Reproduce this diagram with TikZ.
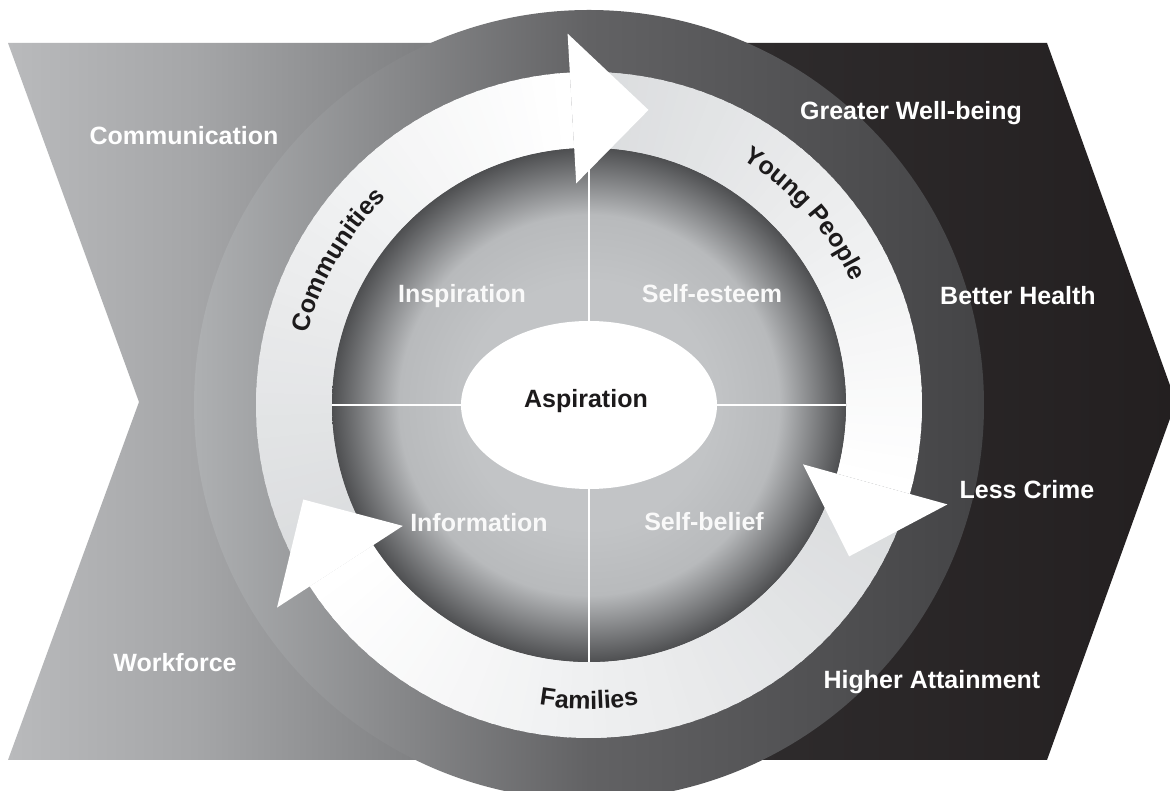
\documentclass[tikz,border=0pt]{standalone}
\usepackage{fontspec}
\setmainfont{Liberation Sans}
\usetikzlibrary{decorations.text,shapes.geometric}

% palette
\definecolor{chevA}{HTML}{B9BABC}
\definecolor{chevB}{HTML}{A5A6A8}
\definecolor{chevC}{HTML}{7E7F81}
\definecolor{chevD}{HTML}{555557}
\definecolor{chevE}{HTML}{2E2B2C}
\definecolor{chevF}{HTML}{231F20}
\definecolor{ringL}{HTML}{AEB0B2}
\definecolor{ringM}{HTML}{626264}
\definecolor{ringR}{HTML}{444446}
\definecolor{discC}{HTML}{C2C4C6}
\definecolor{discM}{HTML}{B8BABC}
\definecolor{discE}{HTML}{4E4F51}
\definecolor{bandtail}{HTML}{D9DBDD}
\definecolor{textdark}{HTML}{1C1A1B}

% background chevron: light grey on the left, near black on the right
\pgfdeclarehorizontalshading{chevronshade}{100bp}{color(0bp)=(chevA); color(25bp)=(chevA);
  color(33bp)=(chevB); color(43bp)=(chevC); color(50bp)=(chevD); color(57bp)=(chevE);
  color(75bp)=(chevF); color(100bp)=(chevF)}
% inner disc: flat light centre, darkening towards the rim
\pgfdeclareradialshading{discshade}{\pgfpoint{0bp}{0bp}}{color(0bp)=(discC); color(12bp)=(discC);
  color(18.5bp)=(discM); color(25bp)=(discE); color(50bp)=(discE)}

\newcommand\curvefont{\fontsize{25}{30}\selectfont\bfseries}

% one arrow body: annular sector from tail angle #1 to head angle #2, grey to white
\newcommand\shadeband[2]{%
  \foreach \k in {0,...,59}{%
    \pgfmathsetmacro\angA{#1+(#2-#1)*max(\k-0.4,0)/60}%
    \pgfmathsetmacro\angB{#1+(#2-#1)*(\k+1)/60}%
    \pgfmathtruncatemacro\mixpc{round(100*\k/59)}%
    \fill[white!\mixpc!bandtail] (\angA:257) arc[start angle=\angA, end angle=\angB, radius=257]
      -- (\angB:333) arc[start angle=\angB, end angle=\angA, radius=333] -- cycle;
  }}
% arrow head with its base at angle #1, pointing clockwise
\newcommand\headat[1]{\fill[white] (#1:222) -- ({#1-14.7}:301) -- (#1:372) -- cycle;}

\tikzset{
  outlabel/.style={text=white, font=\fontsize{25}{30}\selectfont\bfseries, anchor=base, inner sep=0pt},
  quadlabel/.style={outlabel, text=white!95!gray},
  corelabel/.style={outlabel, text=textdark},
  divider/.style={draw=white, line width=1.3pt},
  curved/.style={decorate, decoration={text along path, text align=center, text color=textdark, text={|\curvefont|#1}}}
}

\begin{document}
\begin{tikzpicture}[x=1pt,y=1pt]
\useasboundingbox (0,0) rectangle (1170,791);
\fill[white] (0,0) rectangle (1170,791);
\begin{scope}
\clip (0,0) rectangle (1170,791);

% chevron band
\shade[shading=chevronshade] (8,748) -- (1047,748) -- (1176,389) -- (1047,31) -- (8,31) -- (139,389) -- cycle;

\coordinate (c) at (589,386);

% outer ring
\shade[left color=ringL, right color=ringR, middle color=ringM] (c) circle[radius=395];

% the three arrow bodies
\begin{scope}[shift={(c)}]
  \shadeband{213}{93.3}
  \shadeband{93.3}{-15.5}
  \shadeband{-15.5}{-147}
\end{scope}

% inner disc
\shade[shading=discshade] (c) circle[radius=257];

% centre ellipse and quadrant dividers
\node[ellipse, fill=white, minimum width=256, minimum height=168, inner sep=0pt] (asp) at (c) {};
\draw[divider] (asp.north) -- ++(0,173);
\draw[divider] (asp.south) -- ++(0,-173);
\draw[divider] (asp.west) -- ++(-129,0);
\draw[divider] (asp.east) -- ++(129,0);

% arrow heads and curved labels
\begin{scope}[shift={(c)}]
  \headat{93.3}
  \headat{-15.5}
  \headat{213}
  \path[curved=Communities] (172:290) arc[start angle=172, end angle=128, radius=290];
  \path[curved=Young People] (63.5:290) arc[start angle=63.5, end angle=19.5, radius=290];
  \path[curved=Families] (250:304) arc[start angle=250, end angle=290, radius=304];
\end{scope}

% labels
\node[corelabel] (n-asp) at (586,383) {Aspiration};
\node[quadlabel] (n-insp) at (462,488) {Inspiration};
\node[quadlabel] (n-sest) at (712,488) {Self-esteem};
\node[quadlabel] (n-info) at (479,259) {Information};
\node[quadlabel] (n-sbel) at (704,260) {Self-belief};

\node[outlabel] (n-comm) at (184,646) {Communication};
\node[outlabel] (n-work) at (175,119) {Workforce};
\node[outlabel] (n-gwb) at (911,671) {Greater Well-being};
\node[outlabel] (n-bh) at (1018,486) {Better Health};
\node[outlabel] (n-lc) at (1027,292) {Less Crime};
\node[outlabel] (n-ha) at (932,102) {Higher Attainment};
\end{scope}
\end{tikzpicture}
\end{document}
